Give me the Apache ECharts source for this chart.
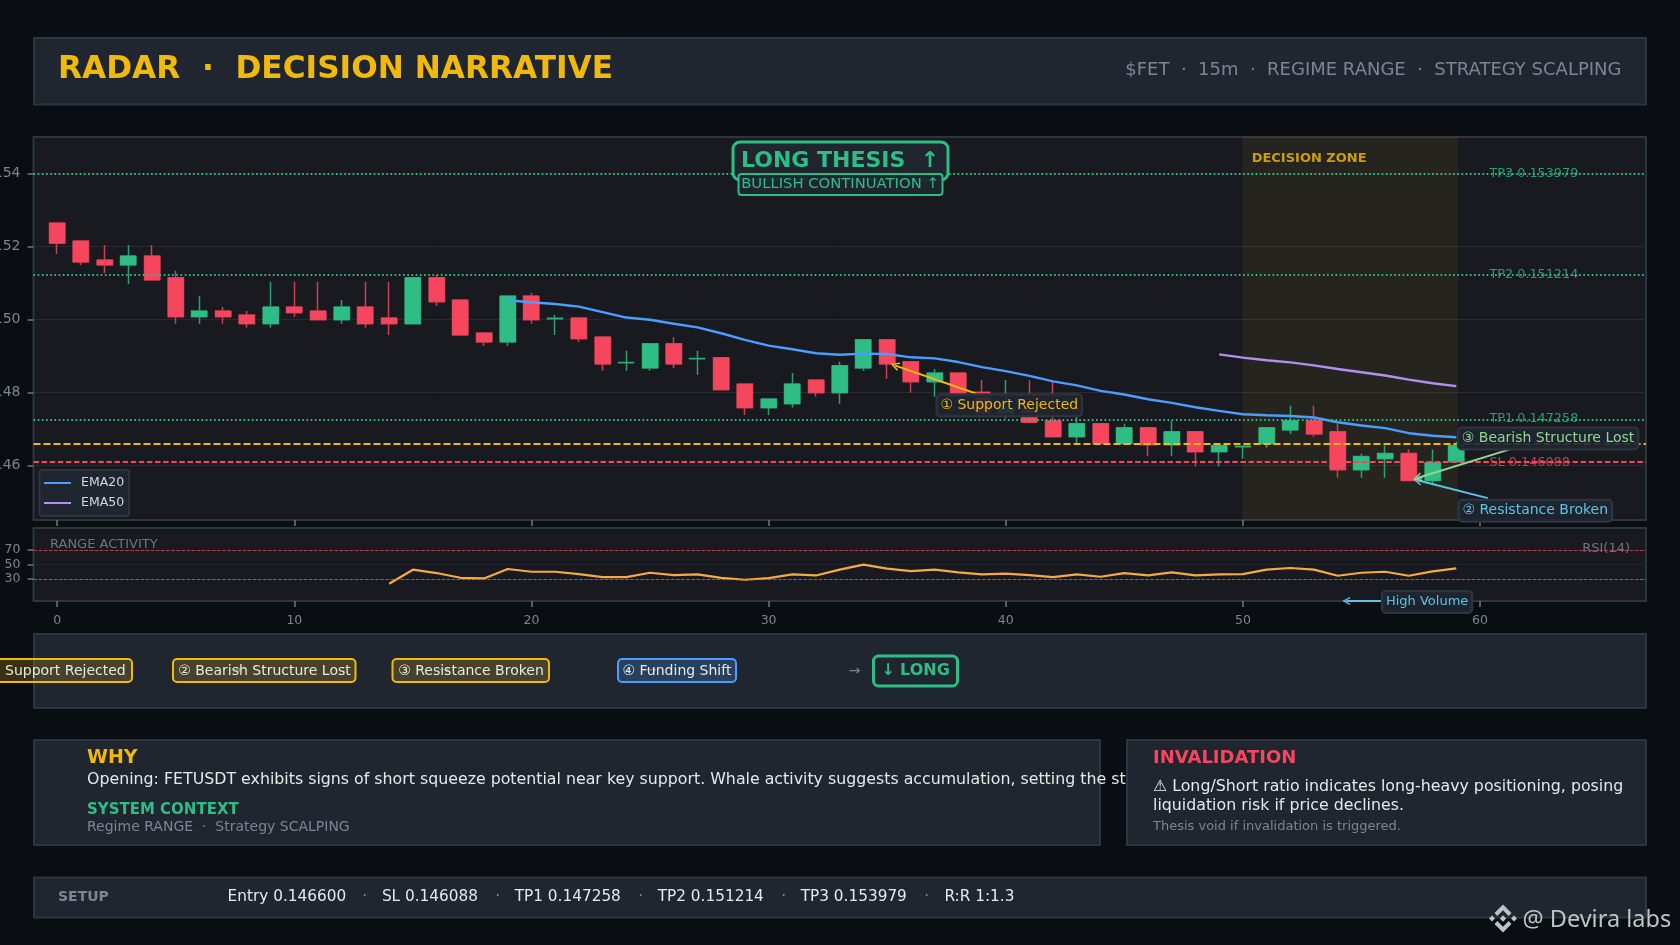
<!DOCTYPE html>
<html>
<head>
<meta charset="utf-8">
<style>html,body{margin:0;padding:0;background:#0a0e12}#c{width:1680px;height:945px}</style>
<script src="https://cdn.jsdelivr.net/npm/echarts@6/dist/echarts.min.js"></script>
</head>
<body>
<div id="c"></div>
<script>
const candleOpen = [.15264,.15215,.15163,.15149,.15174,.15114,.15007,.15023,.15012,.14988,.15034,.15023,.14999,.15034,.15004,.14988,.15114,.15053,.14963,.14938,.15064,.15002,.15004,.14952,.14881,.14867,.14933,.14892,.14895,.14823,.14758,.14769,.14834,.14799,.14867,.14944,.14884,.14829,.14853,.14800,.14738,.14752,.14722,.14678,.14714,.14659,.14703,.14656,.14692,.14637,.14651,.14659,.14697,.14722,.14692,.14588,.14618,.14632,.14558,.14610];
const candleClose = [.15209,.15157,.15149,.15174,.15108,.15007,.15023,.15007,.14988,.15034,.15018,.14999,.15034,.14988,.14988,.15114,.15048,.14957,.14938,.15064,.14999,.15003,.14947,.14878,.14882,.14933,.14878,.14893,.14807,.14758,.14782,.14823,.14799,.14873,.14944,.14878,.14829,.14853,.14789,.14738,.14754,.14718,.14678,.14714,.14659,.14703,.14656,.14692,.14637,.14654,.14652,.14703,.14722,.14686,.14588,.14624,.14632,.14558,.14607,.14654];
const candleLow = [.15179,.15149,.15127,.15097,.15108,.14988,.14988,.14988,.14977,.14977,.15007,.14999,.14988,.14977,.14957,.14988,.15037,.14957,.14927,.14927,.14988,.14957,.14938,.14859,.14859,.14859,.14867,.14848,.14807,.14738,.14738,.14758,.14788,.14769,.14859,.14837,.14799,.14788,.14788,.14738,.14728,.14718,.14678,.14661,.14659,.14659,.14626,.14626,.14597,.14597,.14618,.14648,.14686,.14678,.14566,.14566,.14566,.14558,.14547,.14610];
const candleHigh = [.15264,.15215,.15204,.15204,.15204,.15133,.15064,.15034,.15023,.15103,.15103,.15103,.15053,.15103,.15103,.15114,.15122,.15053,.14963,.15064,.15072,.15012,.15004,.14952,.14914,.14933,.14952,.14914,.14895,.14823,.14782,.14853,.14834,.14884,.14944,.14944,.14884,.14864,.14853,.14834,.14834,.14834,.14834,.14736,.14714,.14714,.14703,.14722,.14692,.14654,.14654,.14703,.14763,.14763,.14714,.14632,.14654,.14643,.14643,.14665];
const ema20Start = 19;
const ema20 = [.15052,.15047,.15042,.15035,.15020,.15005,.14999,.14988,.14978,.14962,.14944,.14928,.14918,.14907,.14903,.14906,.14905,.14896,.14893,.14883,.14869,.14858,.14845,.14830,.14819,.14804,.14794,.14781,.14771,.14759,.14749,.14740,.14737,.14735,.14731,.14718,.14709,.14702,.14688,.14681,.14677];
const ema50Start = 49;
const ema50 = [.14904,.14895,.14888,.14882,.14874,.14864,.14855,.14846,.14835,.14825,.14817];
const rsiStart = 14;
const rsi = [23.6,42.9,38.3,31.8,30.9,43.8,40.1,40.1,36.9,32.8,32.8,38.7,35.5,36.4,31.8,29.1,31.4,36.4,35,42.9,49.8,44.3,41,42.9,39.2,36.4,37.4,35.5,32.8,36.4,33.2,38.3,35,39.2,35,36.4,36.9,42.9,45.2,42.9,34.6,38.7,40.1,34.6,40.6,44.7];
const priceTicks = [.146,.148,.150,.152,.154];
const rsiTicks = [30,50,70];
const xTicks = [0,10,20,30,40,50,60];
const xMin = -1, xMax = 67;
const entry = .1466, stopLoss = .146088, tp1 = .147258, tp2 = .151214, tp3 = .153979;
const zoneFrom = 50, zoneTo = 59.05;
const setupParts = ['Entry 0.146600','SL 0.146088','TP1 0.147258','TP2 0.151214','TP3 0.153979','R:R 1:1.3'];

const GREEN='#2ebd85', RED='#f6465d', YEL='#f0b90b', BLUE='#4a9eff', PURP='#b48ef0', CYAN='#5bc4ea', PALE='#93d694';
const GRAY='#7c8591', DIM='#6d7580', WHITE='#e6e8ea', PANEL='#1f2630', EDGE='#2e3541', PLOT='#181a20';
const FF='"DejaVu Sans"';
const ARROW='path://M0,10 L5,0 L10,10 L8.4,10.6 L5,3.6 L1.6,10.6 Z';

const candleRows = candleOpen.map((o,i)=>[i,o,candleClose[i],candleLow[i],candleHigh[i]]);
const bodyRows = candleOpen.map((o,i)=>{const c=candleClose[i];return [i,o,c,Math.min(o,c),Math.max(o,c)];});

function box(x,y,w,h,fill,stroke,lw,r,z){return {type:'rect',z,silent:true,shape:{x,y,width:w,height:h,r:r||0},style:{fill,stroke,lineWidth:lw}};}
function txt(x,y,text,fill,font,align,z){return {type:'text',x,y,z:z||20,silent:true,style:{text,fill,font,textAlign:align||'left',textVerticalAlign:'middle',align:align||'left',verticalAlign:'middle'}};}
function tag(coord,text,color,size){return {coord,value:0,label:{show:true,position:'inside',offset:[0,1],formatter:text,color,fontSize:size||14,fontFamily:FF,lineHeight:16,backgroundColor:'rgba(31,38,48,0.9)',borderColor:EDGE,borderWidth:2,borderRadius:3,padding:[2,3]}};}
function flat(coord,text,color,size,weight){return {coord,value:0,label:{show:true,position:'inside',align:'left',formatter:text,color,fontSize:size,fontWeight:weight||'normal',fontFamily:FF}};}
function arrow(a,b,color){return [{coord:a,lineStyle:{color,width:2,type:'solid'},itemStyle:{color}},{coord:b,itemStyle:{color}}];}
function level(v,color,width,type){return [{coord:[xMin,v],lineStyle:{color,width,type}},{coord:[xMax,v]}];}

const setupX = [227.6,381.9,514.7,657.7,800.7,944.4];
const setupDotX = [364.8,497.6,640.6,783.6,926.8];
const setupTexts = setupParts.map((t,i)=>txt(setupX[i],897.5,t,WHITE,'15.3px '+FF))
  .concat(setupDotX.map(x=>txt(x,897.5,'·',GRAY,'15.3px '+FF,'center')));

const graphics = [
 box(34,38,1612,66.5,PANEL,EDGE,2,0,-5),
 txt(58,70,'RADAR  ·  DECISION NARRATIVE',YEL,'bold 31.2px '+FF),
 txt(1621.5,70.5,'$FET  ·  15m  ·  REGIME RANGE  ·  STRATEGY SCALPING',GRAY,'18px '+FF,'right'),

 box(34,634,1612,74,PANEL,EDGE,2,0,-5),
 box(-20,659,152,23,'rgba(240,185,11,0.2)',YEL,2,4,14),
 box(173,659,182.5,23,'rgba(240,185,11,0.2)',YEL,2,4,14),
 box(392.5,659,156.5,23,'rgba(240,185,11,0.2)',YEL,2,4,14),
 box(618,659,118,23,'rgba(74,158,255,0.22)',BLUE,2,4,14),
 txt(236,671,'→',GRAY,'13px '+FF,'center',15), txt(444,671,'→',GRAY,'13px '+FF,'center',15), txt(651,671,'→',GRAY,'13px '+FF,'center',15),
 txt(-12,671,'① Support Rejected',WHITE,'14px '+FF,'left',16),
 txt(264.5,671,'② Bearish Structure Lost',WHITE,'14px '+FF,'center',16),
 txt(471,671,'③ Resistance Broken',WHITE,'14px '+FF,'center',16),
 txt(677,671,'④ Funding Shift',WHITE,'14px '+FF,'center',16),
 txt(854.5,671.5,'→',GRAY,'14px '+FF,'center',15),
 box(873.5,656,84,30,PANEL,GREEN,3,5,14),
 txt(915.5,671,'↓ LONG',GREEN,'bold 16px '+FF,'center',15),

 box(34,740,1066,105,PANEL,EDGE,2,0,1),
 txt(87,758,'WHY',YEL,'bold 19px '+FF,'left',2),
 txt(87,780,'Opening: FETUSDT exhibits signs of short squeeze potential near key support. Whale activity suggests accumulation, setting the stage',WHITE,'15.8px '+FF,'left',2),
 txt(87,810.5,'SYSTEM CONTEXT',GREEN,'bold 15px '+FF,'left',2),
 txt(87,827.5,'Regime RANGE  ·  Strategy SCALPING',GRAY,'14px '+FF,'left',2),

 box(1127,740,519,105,PANEL,EDGE,2,0,3),
 txt(1153,758,'INVALIDATION',RED,'bold 18px '+FF,'left',4),
 txt(1153,786.5,'⚠ Long/Short ratio indicates long-heavy positioning, posing',WHITE,'15.8px '+FF,'left',4),
 txt(1153,805.5,'liquidation risk if price declines.',WHITE,'15.8px '+FF,'left',4),
 txt(1153,826.5,'Thesis void if invalidation is triggered.',GRAY,'13px '+FF,'left',4),

 box(34,877.5,1612,40,PANEL,EDGE,2,0,-5),
 txt(58,897.5,'SETUP',GRAY,'bold 14px '+FF),
 ...setupTexts,

 box(733,142,215,38,PANEL,GREEN,3,7,30),
 txt(741,161,'LONG THESIS  ↑',GREEN,'bold 22px '+FF,'left',31),
 box(738.5,174,204,21,'rgba(31,38,48,0.95)',GREEN,2,3,32),
 txt(840,184,'BULLISH CONTINUATION ↑',GREEN,'14.8px '+FF,'center',33),

 txt(50,545,'RANGE ACTIVITY',DIM,'13px '+FF,'left',30),
 txt(1630,549,'RSI(14)',DIM,'13px '+FF,'right',30),

 {type:'group',x:1503,y:918.5,z:40,silent:true,children:[
   {type:'polygon',shape:{points:[[0,-14],[8.5,-5.5],[5.6,-2.6],[0,-8.2],[-5.6,-2.6],[-8.5,-5.5]]},style:{fill:'#bfc3c7'}},
   {type:'polygon',shape:{points:[[0,14],[8.5,5.5],[5.6,2.6],[0,8.2],[-5.6,2.6],[-8.5,5.5]]},style:{fill:'#bfc3c7'}},
   {type:'polygon',shape:{points:[[-14,0],[-11,-3],[-8,0],[-11,3]]},style:{fill:'#bfc3c7'}},
   {type:'polygon',shape:{points:[[14,0],[11,-3],[8,0],[11,3]]},style:{fill:'#bfc3c7'}},
   {type:'polygon',shape:{points:[[0,-3.2],[3.2,0],[0,3.2],[-3.2,0]]},style:{fill:'#bfc3c7'}}
 ]},
 txt(1522.5,920,'@ Devira labs','#bfc3c7','23.5px "Noto Sans"','left',40)
];

const chart = echarts.init(document.getElementById('c'),null,{width:1680,height:945,renderer:'canvas'});
const axisLbl = {color:GRAY,fontFamily:FF,fontSize:13};
const tick = {show:true,length:6,lineStyle:{color:'#6f7782',width:1.5}};
const noLine = {show:false,onZero:false};
chart.setOption({
 animation:false,
 backgroundColor:'#0a0e12',
 graphic:{elements:graphics},
 legend:{show:true,data:['EMA20','EMA50'],orient:'vertical',left:39.5,top:470,padding:[6.5,5,6.5,4.5],itemGap:7,itemWidth:27,itemHeight:2,icon:'rect',
   backgroundColor:PANEL,borderColor:EDGE,borderWidth:2,borderRadius:3,selectedMode:false,
   textStyle:{color:'#d6d9dd',fontFamily:FF,fontSize:12.5,padding:[0,0,0,5]}},
 grid:[
  {left:33.5,top:137,width:1612.5,height:383,show:true,backgroundColor:PLOT,borderColor:EDGE,borderWidth:2,outerBoundsMode:'none',containLabel:false},
  {left:33.5,top:528,width:1612.5,height:73,show:true,backgroundColor:PLOT,borderColor:EDGE,borderWidth:2,outerBoundsMode:'none',containLabel:false}
 ],
 xAxis:[
  {type:'value',gridIndex:0,min:xMin,max:xMax,axisLine:noLine,splitLine:{show:false},axisTick:{...tick,customValues:xTicks},axisLabel:{show:false,customValues:xTicks}},
  {type:'value',gridIndex:1,min:xMin,max:xMax,axisLine:noLine,splitLine:{show:false},axisTick:{...tick,customValues:xTicks},axisLabel:{...axisLbl,margin:13.5,customValues:xTicks,fontSize:12.5}}
 ],
 yAxis:[
  {type:'value',gridIndex:0,min:.1445,max:.155,axisLine:noLine,axisTick:{...tick,customValues:priceTicks},
   splitLine:{show:true,lineStyle:{color:'#272a31',width:1}},
   axisLabel:{...axisLbl,fontSize:14,margin:13,customValues:priceTicks,formatter:v=>v.toFixed(3)}},
  {type:'value',gridIndex:1,min:0,max:100,axisLine:noLine,axisTick:{...tick,customValues:rsiTicks},
   splitLine:{show:true,lineStyle:{color:'#22252b',width:1}},
   axisLabel:{...axisLbl,margin:13,customValues:rsiTicks,fontSize:12.5,padding:[2,0,0,0]}}
 ],
 series:[
  {name:'zone',type:'line',data:[],xAxisIndex:0,yAxisIndex:0,z:1,silent:true,
   markArea:{silent:true,itemStyle:{color:'rgba(240,185,11,0.065)',borderColor:'rgba(240,185,11,0.05)',borderWidth:1},data:[[{xAxis:zoneFrom},{xAxis:zoneTo}]]}},
  {name:'wicks',type:'candlestick',data:candleRows,encode:{x:0,y:[1,2,3,4]},xAxisIndex:0,yAxisIndex:0,barWidth:15.5,z:2,silent:true,
   itemStyle:{color:GREEN,color0:RED,borderColor:GREEN,borderColor0:RED,borderWidth:1.5,opacity:0.82}},
  {name:'Price',type:'candlestick',data:bodyRows,encode:{x:0,y:[1,2,3,4]},xAxisIndex:0,yAxisIndex:0,barWidth:16.5,z:3,silent:true,
   itemStyle:{color:GREEN,color0:RED,borderColor:GREEN,borderColor0:RED,borderWidth:0}},
  {name:'EMA20',type:'line',data:ema20.map((v,k)=>[ema20Start+k,v]),xAxisIndex:0,yAxisIndex:0,showSymbol:false,symbol:'none',z:4,silent:true,lineStyle:{color:BLUE,width:2.4},itemStyle:{color:BLUE}},
  {name:'EMA50',type:'line',data:ema50.map((v,k)=>[ema50Start+k,v]),xAxisIndex:0,yAxisIndex:0,showSymbol:false,symbol:'none',z:4,silent:true,lineStyle:{color:PURP,width:2.4},itemStyle:{color:PURP}},
  {name:'levels',type:'line',data:[],xAxisIndex:0,yAxisIndex:0,z:5,silent:true,
   markLine:{silent:true,symbol:'none',label:{show:false},animation:false,data:[
     level(tp3,GREEN,2,[1.6,2.6]),
     level(tp2,GREEN,2,[1.6,2.6]),
     level(tp1,GREEN,2,[1.6,2.6]),
     level(entry,YEL,2,[7,3]),
     level(stopLoss,RED,1.9,[5.5,2.6])
   ]}},
  {name:'arrows',type:'line',data:[],xAxisIndex:0,yAxisIndex:0,z:6,silent:true,
   markLine:{silent:true,symbol:['none',ARROW],symbolSize:9,label:{show:false},animation:false,data:[
     arrow([38.77,.14796],[35.32,.14874],YEL),
     arrow([60.33,.14510],[57.36,.14559],CYAN),
     arrow([61.32,.14645],[57.36,.14565],PALE)
   ]}},
  {name:'labels',type:'line',data:[],xAxisIndex:0,yAxisIndex:0,z:7,silent:true,
   markPoint:{silent:true,symbol:'circle',symbolSize:1,itemStyle:{color:'rgba(0,0,0,0)'},animation:false,data:[
     flat([60.4,tp3+.00002],'TP3 0.153979','rgba(46,189,133,0.8)',12.8),
     flat([60.4,tp2+.00002],'TP2 0.151214','rgba(46,189,133,0.8)',12.8),
     flat([60.4,tp1+.00002],'TP1 0.147258','rgba(46,189,133,0.8)',12.8),
     flat([60.4,stopLoss-.00002],'SL 0.146088','rgba(246,70,93,0.8)',12.8),
     flat([50.37,.1544],'DECISION ZONE','rgba(240,185,11,0.82)',13,'bold'),
     tag([40.15,.14767],'① Support Rejected',YEL),
     tag([62.33,.14478],'② Resistance Broken',CYAN),
     tag([62.87,.14676],'③ Bearish Structure Lost',PALE)
   ]}},
  {name:'RSI',type:'line',data:rsi.map((v,k)=>[rsiStart+k,v]),xAxisIndex:1,yAxisIndex:1,showSymbol:false,symbol:'none',z:4,silent:true,lineStyle:{color:'#f7a945',width:2.2},
   markLine:{silent:true,symbol:'none',label:{show:false},animation:false,data:[
     {yAxis:70,lineStyle:{color:'rgba(246,70,93,0.7)',width:1,type:[3.5,1.6]}},
     {yAxis:30,lineStyle:{color:'rgba(46,189,133,0.7)',width:1,type:[3.5,1.6]}}
   ]}},
  {name:'rsiNotes',type:'line',data:[],xAxisIndex:1,yAxisIndex:1,z:6,silent:true,
   markLine:{silent:true,symbol:['none',ARROW],symbolSize:8,label:{show:false},animation:false,data:[arrow([56,0],[54.36,0],CYAN)]},
   markPoint:{silent:true,symbol:'circle',symbolSize:1,itemStyle:{color:'rgba(0,0,0,0)'},animation:false,data:[tag([57.77,0],'High Volume',CYAN,13)]}}
 ]
});
</script>
</body>
</html>
